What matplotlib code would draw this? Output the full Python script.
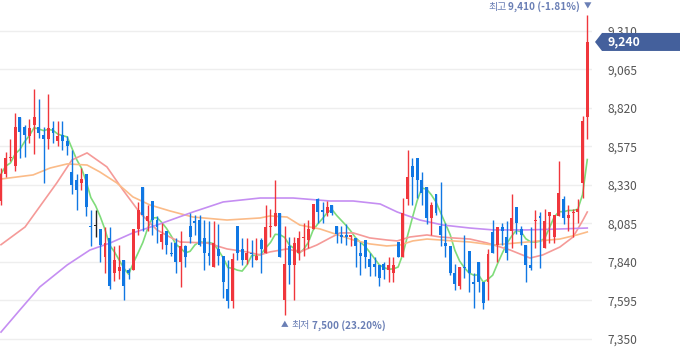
import numpy as np
import pandas as pd
import matplotlib.pyplot as plt
from matplotlib.patches import Polygon
from matplotlib.transforms import Affine2D, ScaledTranslation


# =====================================================
# Data (daily candles)
# =====================================================

opens = [8230, 8400, 8500, 8450, 8760, 8700, 8640, 8710, 8700, 8650,
         8620, 8690, 8610, 8650, 8610, 8410, 8360, 8340, 8400, 8070,
         8070, 8050, 7870, 7990, 7770, 7780, 7850, 7790, 7790, 8050,
         8320, 8100, 8230, 8110, 7970, 8040, 7900, 7960, 7840, 7940,
         8070, 8100, 8110, 7990, 7900, 7810, 7920, 7880, 7670, 7590,
         8070, 7920, 7850, 7900, 7850, 7980, 7900, 8060, 8070, 8150,
         7600, 7940, 7820, 7900, 7990, 7980, 8050, 8240, 8170, 8150,
         8200, 8070, 8010, 8010, 8000, 7990, 7900, 7980, 7860, 7830,
         7820, 7830, 7790, 7770, 7970, 7870, 8240, 8450, 8500, 8360,
         8320, 8120, 8270, 8070, 7960, 7940, 7770, 7690, 7810, 7910,
         7710, 7840, 7710, 7710, 8030, 7950, 8060, 8000, 8040, 8190,
         8050, 7950, 7820, 8100, 8130, 7930, 8130, 8000, 8130, 8240,
         8120, 8150, 8160, 8340, 8760]

highs = [8440, 8540, 8620, 8790, 8760, 8710, 8750, 8940, 8880, 8700,
         8910, 8740, 8740, 8740, 8640, 8550, 8400, 8440, 8400, 8170,
         8170, 8050, 8060, 8060, 7940, 7950, 7850, 7800, 8050, 8220,
         8320, 8200, 8230, 8130, 8090, 8040, 7970, 7990, 8040, 7950,
         8150, 8140, 8140, 8110, 8100, 8100, 8080, 7880, 7850, 7900,
         8070, 7990, 7990, 7980, 7990, 7990, 8200, 8180, 8360, 8150,
         8070, 8000, 8000, 8040, 8090, 8110, 8210, 8250, 8220, 8230,
         8200, 8070, 8070, 8080, 8010, 7990, 7970, 7980, 7900, 7870,
         7820, 7840, 7870, 7870, 7970, 8250, 8550, 8500, 8500, 8410,
         8320, 8220, 8270, 8350, 8090, 7940, 7830, 7810, 8010, 7910,
         7770, 7840, 7710, 7920, 8110, 8060, 8090, 8100, 8270, 8190,
         8070, 7950, 8060, 8170, 8160, 8180, 8160, 8140, 8480, 8260,
         8200, 8180, 8240, 8770, 9410]

lows = [8200, 8380, 8480, 8420, 8500, 8510, 8600, 8530, 8630, 8340,
        8560, 8600, 8580, 8550, 8520, 8270, 8170, 8300, 8130, 7940,
        8000, 7840, 7770, 7670, 7720, 7730, 7600, 7730, 7790, 8010,
        8040, 8040, 8010, 7960, 7920, 7890, 7880, 7770, 7680, 7810,
        7960, 8010, 7940, 7790, 7820, 7810, 7820, 7610, 7550, 7550,
        7850, 7820, 7830, 7810, 7850, 7770, 7900, 8000, 8070, 7870,
        7500, 7700, 7600, 7850, 7880, 7930, 8050, 8090, 8090, 8130,
        8140, 7960, 7960, 7950, 7940, 7810, 7760, 7800, 7750, 7750,
        7690, 7730, 7710, 7710, 7870, 7870, 8200, 8200, 8250, 8200,
        8080, 8010, 8140, 7940, 7870, 7760, 7660, 7670, 7740, 7650,
        7550, 7650, 7540, 7600, 7900, 7840, 7950, 7850, 7930, 8020,
        7950, 7710, 7790, 7930, 7800, 7930, 7960, 7960, 8130, 8080,
        8040, 8000, 8090, 8250, 8620]

closes = [8400, 8500, 8510, 8700, 8670, 8650, 8690, 8760, 8660, 8620,
          8690, 8660, 8640, 8610, 8580, 8330, 8300, 8370, 8190, 8060,
          8070, 7950, 7960, 7690, 7850, 7810, 7690, 7770, 8050, 8170,
          8140, 8130, 8110, 8060, 8020, 7950, 7890, 7840, 7940, 7870,
          8000, 8090, 7950, 7900, 7880, 7960, 7880, 7710, 7590, 7860,
          7900, 7850, 7900, 7890, 7880, 7920, 8060, 8070, 8150, 7870,
          7830, 7820, 7960, 7990, 8000, 8050, 8210, 8160, 8160, 8190,
          8150, 8020, 8000, 8000, 8010, 7940, 7880, 7870, 7810, 7810,
          7740, 7790, 7820, 7820, 7870, 8150, 8380, 8380, 8360, 8280,
          8120, 8200, 8150, 8010, 7940, 7770, 7700, 7810, 7800, 7770,
          7700, 7710, 7580, 7890, 7900, 8060, 8040, 7900, 8120, 8090,
          8010, 7820, 7800, 8110, 8120, 8100, 8160, 8140, 8280, 8120,
          8140, 8160, 8180, 8740, 9240]

# moving averages read at a few candle positions
ma20_idx = [0, 5.1, 11.8, 15.0, 18.2, 22.4, 25.8, 29.4, 33.0, 35.7, 37.9,
            43.6, 47.8, 52.0, 54.8, 56.9, 60.5, 63.2, 66.8, 69.6, 71.7,
            74.5, 78.0, 81.6, 83.8, 86.5, 90.1, 92.9, 95.6, 99.2, 102.8,
            107.7, 111.9, 114.6, 118.2, 121.0, 123.1, 124]
ma20_val = [7950, 8063, 8343, 8489, 8534, 8445, 8298, 8152, 8044, 7999, 7967,
            7961, 7923, 7904, 7885, 7904, 7923, 7904, 7948, 7993, 8025,
            8025, 7993, 7980, 7974, 7999, 8012, 7999, 7993, 7986, 7961,
            7916, 7865, 7885, 7935, 7999, 8107, 8158]

ma60_idx = [0, 6.8, 10.4, 14.0, 18.2, 20.9, 24.5, 27.9, 31.5, 35.7, 40.6,
            47.8, 54.8, 56.9, 60.5, 63.2, 67.5, 74.5, 78.0, 81.6, 84.4,
            87.1, 90.1, 95.6, 99.2, 104.1, 111.3, 118.2, 121.8, 124]
ma60_val = [8368, 8394, 8438, 8464, 8457, 8413, 8343, 8254, 8203, 8165, 8126,
            8107, 8120, 8133, 8126, 8075, 8050, 7980, 7955, 7942, 7948,
            7974, 7986, 7974, 7967, 7948, 7967, 7986, 8012, 8031]

ma120_idx = [0, 4.0, 8.2, 14.0, 18.8, 23.1, 27.9, 33.6, 40.6, 47.0, 54.8,
             61.8, 69.6, 74.5, 80.2, 83.8, 88.6, 93.5, 99.2, 104.1, 111.3,
             118.2, 124]
ma120_val = [7394, 7535, 7681, 7821, 7916, 7961, 8025, 8082, 8158, 8222, 8247,
             8247, 8228, 8228, 8209, 8158, 8107, 8075, 8056, 8044, 8044,
             8050, 8056]

y_ticks = [7350, 7595, 7840, 8085, 8330, 8575, 8820, 9065, 9310]

high_label = ("최고", "9,410 (-1.81%)")
low_label = ("최저", "7,500 (23.20%)")
last_label = "9,240"


# =====================================================
# Style
# =====================================================

UP = "#f0363c"
DOWN = "#1077e3"
FLAT = "#222222"
LABEL = "#6a7fb5"
TAG = "#44609c"

plt.rcParams["font.family"] = ["Noto Sans CJK KR", "DejaVu Sans"]


# =====================================================
# Plot
# =====================================================

fig = plt.figure(figsize=(6.8, 3.58), dpi=100)
ax = fig.add_axes([0, 0, 592 / 680, 1])

df = pd.DataFrame({"open": opens, "high": highs, "low": lows, "close": closes})
x = np.arange(len(df))

colors = np.where(df["close"] > df["open"], UP,
                  np.where(df["close"] < df["open"], DOWN, FLAT))

ax.vlines(x, df["low"], df["high"], colors=colors, linewidth=1.0, zorder=3)

body_bottom = np.minimum(df["open"], df["close"])
body_height = np.maximum((df["close"] - df["open"]).abs(), 7)
ax.bar(x, body_height, bottom=body_bottom, width=0.62, color=colors,
       linewidth=0, zorder=4)

# moving averages
ma5 = df["close"].rolling(5, min_periods=1).mean()
ax.plot(x, ma5, color="#7fdc7a", linewidth=1.2, zorder=2)
ax.plot(ma20_idx, ma20_val, color="#f59a98", linewidth=1.2, zorder=2)
ax.plot(ma60_idx, ma60_val, color="#fbbb88", linewidth=1.2, zorder=2)
ax.plot(ma120_idx, ma120_val, color="#c58ef2", linewidth=1.2, zorder=2)

# axes
ax.set_xlim(-0.21, 125.0)
ax.set_ylim(7229, 9507)
ax.set_yticks(y_ticks)
ax.set_yticklabels([f"{v:,}" for v in y_ticks])
ax.yaxis.tick_right()
ax.tick_params(axis="y", length=0, pad=11, labelsize=8.6, labelcolor="#555555")
ax.set_xticks([])
ax.grid(axis="y", color="#eeeeee", linewidth=1)
ax.set_axisbelow(True)
for s in ax.spines.values():
    s.set_visible(False)

# high label
i_hi = int(np.argmax(highs))
ax.annotate("▼", xy=(i_hi, highs[i_hi]), xytext=(0, 6),
            textcoords="offset points", ha="center", va="center",
            fontsize=5.5, color=LABEL)
t_hi = ax.annotate(high_label[1], xy=(i_hi, highs[i_hi]), xytext=(-5, 6),
                   textcoords="offset points", ha="right", va="center",
                   fontsize=7.2, color=LABEL, fontweight="bold")
ax.annotate(high_label[0], xy=(0, 0.5), xycoords=t_hi, xytext=(-1.5, 0),
            textcoords="offset points", ha="right", va="center",
            fontsize=7.2, color=LABEL)

# low label
i_lo = int(np.argmin(lows))
t_arrow = ax.annotate("▲", xy=(i_lo, lows[i_lo]), xytext=(0, -7),
                      textcoords="offset points", ha="center", va="center",
                      fontsize=5.5, color=LABEL)
t_lo = ax.annotate(low_label[0], xy=(1, 0.5), xycoords=t_arrow,
                   xytext=(2, 0), textcoords="offset points",
                   ha="left", va="center", fontsize=7.2, color=LABEL)
ax.annotate(low_label[1], xy=(1, 0.5), xycoords=t_lo, xytext=(1.5, 0),
            textcoords="offset points", ha="left", va="center",
            fontsize=7.2, color=LABEL, fontweight="bold")

# current price tag
anchor = ScaledTranslation(1, closes[-1], ax.get_yaxis_transform())
tag = Polygon([(3, 0), (10, 9), (100, 9), (100, -9), (10, -9)],
              closed=True, facecolor=TAG, edgecolor="none",
              transform=Affine2D() + anchor, clip_on=False, zorder=6)
ax.add_patch(tag)
ax.annotate(last_label, xy=(1, closes[-1]), xycoords=ax.get_yaxis_transform(),
            xytext=(11.5, 0), textcoords="offset points", ha="left",
            va="center", fontsize=8.8, color="white", fontweight="bold",
            annotation_clip=False, zorder=7)

fig.savefig("out.png", dpi=100)
plt.close(fig)
